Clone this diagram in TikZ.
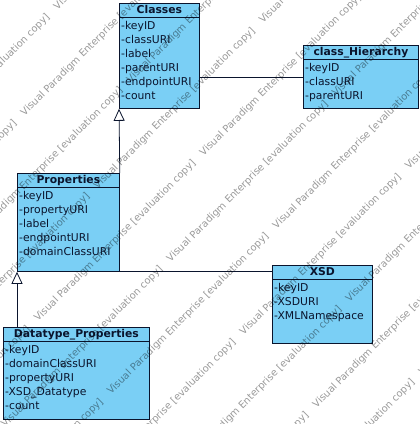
\documentclass[tikz,border=0pt]{standalone}
\usepackage{fontspec}
\setmainfont{DejaVu Sans}
\usetikzlibrary{arrows.meta}
\definecolor{classfill}{RGB}{122,207,245}
\definecolor{classline}{RGB}{10,20,45}

\begin{document}
\begin{tikzpicture}[x=1pt, y=-1pt,
    umlclass/.style={rectangle, draw=classline, fill=classfill, line width=0.8pt, inner sep=0pt, anchor=north west},
    umltitle/.style={inner sep=0pt, minimum height=13.5pt, text height=8pt, text depth=0pt, anchor=north, font=\fontsize{10.8}{13}\selectfont\bfseries, text=classline},
    umlfields/.style={inner xsep=2pt, inner ysep=4pt, anchor=north west, align=left, font=\fontsize{10.8}{14.1}\selectfont, text=classline},
    genarrow/.style={draw=classline, line width=0.8pt, -{Triangle[open, fill=white, length=12pt, width=11pt]}},
    assoc/.style={draw=classline, line width=0.8pt},
    watermark/.style={anchor=base west, rotate=45, inner sep=0pt, text=black, text opacity=0.4, font=\fontsize{9.9}{10}\selectfont}]
    \useasboundingbox (0,0) rectangle (420,424);

    \node[umlclass, minimum width=80pt, minimum height=105pt] (classes) at (119,3) {};
    \node[umltitle] (classestitle) at (classes.north) {Classes};
    \node[umlfields] (classesfields) at (classestitle.south -| classes.west) {-keyID\\-classURI\\-label\\-parentURI\\-endpointURI\\-count};

    \node[umlclass, minimum width=115pt, minimum height=63pt] (hierarchy) at (303,45) {};
    \node[umltitle] (hierarchytitle) at (hierarchy.north) {class\_Hierarchy};
    \node[umlfields] (hierarchyfields) at (hierarchytitle.south -| hierarchy.west) {-keyID\\-classURI\\-parentURI};

    \node[umlclass, minimum width=102pt, minimum height=98pt] (properties) at (17,173) {};
    \node[umltitle] (propertiestitle) at (properties.north) {Properties};
    \node[umlfields] (propertiesfields) at (propertiestitle.south -| properties.west) {-keyID\\-propertyURI\\-label\\-endpointURI\\-domainClassURI};

    \node[umlclass, minimum width=100pt, minimum height=78pt] (xsd) at (272,265) {};
    \node[umltitle] (xsdtitle) at (xsd.north) {XSD};
    \node[umlfields] (xsdfields) at (xsdtitle.south -| xsd.west) {-keyID\\-XSDURI\\-XMLNamespace};

    \node[umlclass, minimum width=146pt, minimum height=92pt] (dtprops) at (3,327) {};
    \node[umltitle] (dtpropstitle) at (dtprops.north) {Datatype\_Properties};
    \node[umlfields] (dtpropsfields) at (dtpropstitle.south -| dtprops.west) {-keyID\\-domainClassURI\\-propertyURI\\-XSD\_Datatype\\-count};

    \draw[assoc] (classes.west |- classestitle.south) -- (classes.east |- classestitle.south);
    \draw[assoc] (hierarchy.west |- hierarchytitle.south) -- (hierarchy.east |- hierarchytitle.south);
    \draw[assoc] (properties.west |- propertiestitle.south) -- (properties.east |- propertiestitle.south);
    \draw[assoc] (xsd.west |- xsdtitle.south) -- (xsd.east |- xsdtitle.south);
    \draw[assoc] (dtprops.west |- dtpropstitle.south) -- (dtprops.east |- dtpropstitle.south);

    \draw[genarrow] (properties.north east) -- (classes.south west);
    \draw[genarrow] (dtprops.north -| properties.south west) -- (properties.south west);
    \draw[assoc] (hierarchy.west -| classes.east) -- (hierarchy.west);
    \draw[assoc] (properties.south east) -- (properties.south east -| xsd.west);

    \begin{scope}
      \clip (0,0) rectangle (420,424);
      \foreach \k in {0,...,10} {
        \foreach \m in {-2,...,2} {
          \pgfmathsetmacro{\s}{68+73*\k}
          \pgfmathsetmacro{\d}{47-139*mod(\k,2)+331*\m}
          \node[watermark] (wm\k\m) at ({(\s+\d)/2},{(\s-\d)/2}) {Visual Paradigm Enterprise [evaluation copy]};
        }
      }
    \end{scope}
  \end{tikzpicture}
\end{document}
